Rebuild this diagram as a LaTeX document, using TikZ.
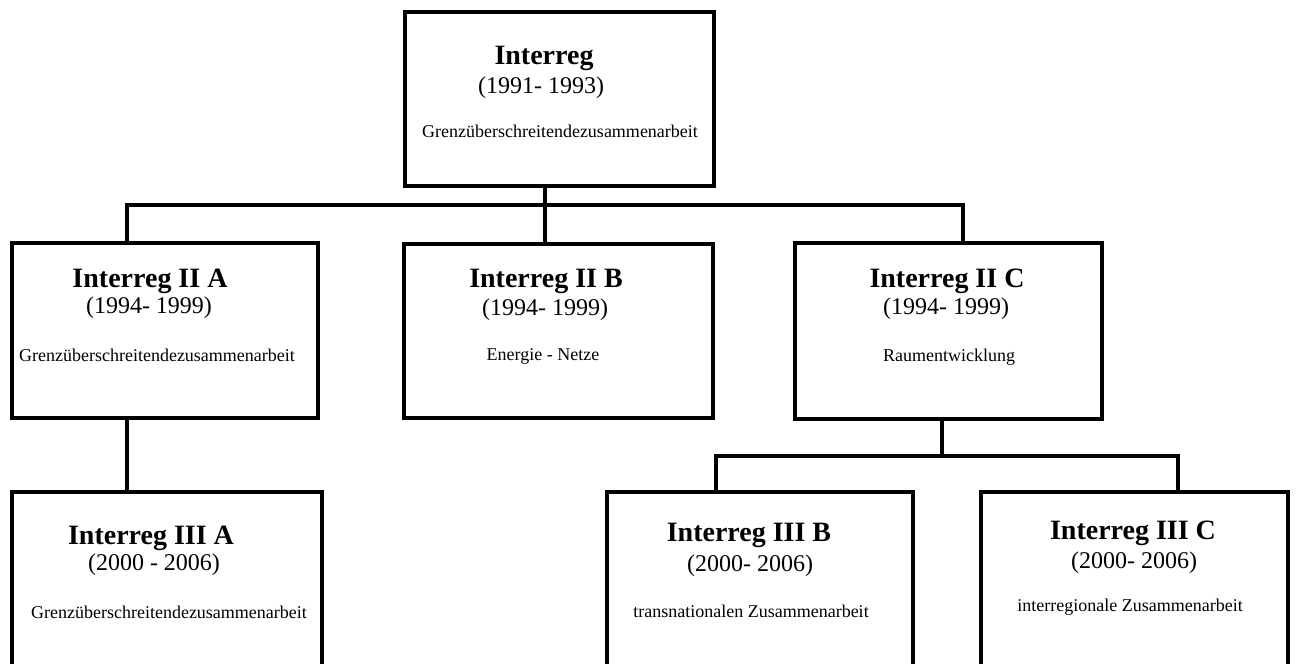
\documentclass[tikz,border=0pt]{standalone}
\usepackage{fontspec}
\setmainfont{Liberation Serif}

\tikzset{
  boxstyle/.style  = {shape = rectangle, draw = black, line width = 2pt, inner sep = 0pt},
  linkstyle/.style = {draw = black, line width = 2pt},
  titletext/.style = {font = \fontsize{14}{16}\selectfont\bfseries, inner sep = 0pt},
  yeartext/.style  = {font = \fontsize{12}{14}\selectfont, inner sep = 0pt},
  desctext/.style  = {font = \fontsize{9}{11}\selectfont, inner sep = 0pt},
}

\begin{document}
\begin{tikzpicture}[x = 0.5pt, y = -0.5pt]
        \useasboundingbox (0, 0) rectangle (1296, 664);
        \clip (0, 0) rectangle (1296, 664);

        % ------------------------------------------------------------------------
        % Interreg
        \node[boxstyle, minimum width = 154.5pt, minimum height = 87pt] at (559.5, 99) (top) {};
        \node[titletext] at (544, 58) (topT) {Interreg};
        \node[yeartext]  at (541, 88) (topY) {(1991- 1993)};
        \node[desctext]  at (560, 131) (topD) {Grenzüberschreitendezusammenarbeit};

        % ------------------------------------------------------------------------
        % Interreg II
        \node[boxstyle, minimum width = 153pt, minimum height = 87.5pt] at (165, 330.5) (iia) {};
        \node[titletext] at (150, 281) (iiaT) {Interreg II A};
        \node[yeartext]  at (149, 308) (iiaY) {(1994- 1999)};
        \node[desctext]  at (157, 355) (iiaD) {Grenzüberschreitendezusammenarbeit};

        \node[boxstyle, minimum width = 154.5pt, minimum height = 87pt] at (558.5, 331) (iib) {};
        \node[titletext] at (546, 281) (iibT) {Interreg II B};
        \node[yeartext]  at (545, 310) (iibY) {(1994- 1999)};
        \node[desctext]  at (543, 356) (iibD) {Energie - Netze};

        \node[boxstyle, minimum width = 153.5pt, minimum height = 88pt] at (948.5, 331) (iic) {};
        \node[titletext] at (947, 281) (iicT) {Interreg II C};
        \node[yeartext]  at (946, 309) (iicY) {(1994- 1999)};
        \node[desctext]  at (949, 357) (iicD) {Raumentwicklung};

        % ------------------------------------------------------------------------
        % Interreg III
        \node[boxstyle, minimum width = 155pt, minimum height = 104pt] at (167, 596) (iiia) {};
        \node[titletext] at (151, 538) (iiiaT) {Interreg III A};
        \node[yeartext]  at (154, 565) (iiiaY) {(2000 - 2006)};
        \node[desctext]  at (169, 612) (iiiaD) {Grenzüberschreitendezusammenarbeit};

        \node[boxstyle, minimum width = 153pt, minimum height = 104pt] at (760, 596) (iiib) {};
        \node[titletext] at (749, 535) (iiibT) {Interreg III B};
        \node[yeartext]  at (750, 566) (iiibY) {(2000- 2006)};
        \node[desctext]  at (751, 611) (iiibD) {transnationalen Zusammenarbeit};

        \node[boxstyle, minimum width = 153.5pt, minimum height = 104pt] at (1134.5, 596) (iiic) {};
        \node[titletext] at (1133, 533) (iiicT) {Interreg III C};
        \node[yeartext]  at (1134, 563) (iiicY) {(2000- 2006)};
        \node[desctext]  at (1130, 607) (iiicD) {interregionale Zusammenarbeit};

        % ------------------------------------------------------------------------
        % Connectors
        \coordinate (b1) at (127, 205);
        \coordinate (b2) at (545, 205);
        \coordinate (b3) at (963, 205);
        \coordinate (c1) at (716, 456);
        \coordinate (c2) at (942, 456);
        \coordinate (c3) at (1178, 456);

        \draw[linkstyle]
          (iia.north -| b1) -- (b1) -- (b3) -- (iic.north -| b3)
          (top.south -| b2) -- (iib.north -| b2)
          (iia.south -| b1) -- (iiia.north -| b1)
          (iic.south -| c2) -- (c2)
          (iiib.north -| c1) -- (c1) -- (c3) -- (iiic.north -| c3)
        ;
      \end{tikzpicture}
\end{document}
